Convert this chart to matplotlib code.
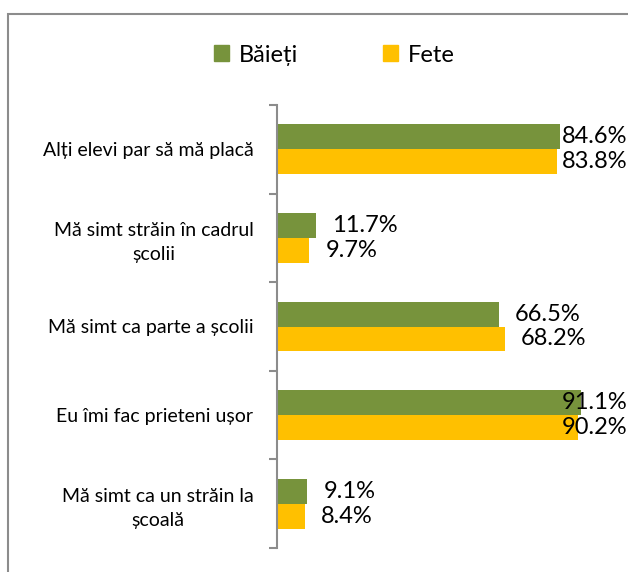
import matplotlib.pyplot as plt
from matplotlib.patches import Rectangle, Patch
import numpy as np

plt.rcParams['font.family'] = ['Lato', 'DejaVu Sans']

categories = ['Alți elevi par să mă placă',
              'Mă simt străin în cadrul\nșcolii',
              'Mă simt ca parte a școlii',
              'Eu îmi fac prieteni ușor',
              'Mă simt ca un străin la\nșcoală']
baieti = [84.6, 11.7, 66.5, 91.1, 9.1]
fete = [83.8, 9.7, 68.2, 90.2, 8.4]
series_names = ['Băieți', 'Fete']

green = '#77933C'
yellow = '#FFC000'

W, H = 628, 572
fig = plt.figure(figsize=(W / 100, H / 100), dpi=100)

# outer chart frame (runs off right and bottom edges)
fig.patches.append(Rectangle((8 / W, -0.05), 1.2, (H - 14) / H + 0.05,
                             transform=fig.transFigure, fill=False,
                             edgecolor='#8c8c8c', linewidth=1.5))

ax = fig.add_axes([277 / W, 24 / H, (611 - 277) / W, (467 - 24) / H])

y = np.arange(len(categories))
h = 0.28
ax.barh(y - h / 2, baieti, height=h, color=green, label=series_names[0])
ax.barh(y + h / 2, fete, height=h, color=yellow, label=series_names[1])

ax.set_xlim(0, 100)
ax.set_ylim(len(categories) - 0.5, -0.5)

# value labels, pushed back inside when they would run off the edge
right_limit = 104.8
for vals, off in ((baieti, -h / 2), (fete, h / 2)):
    for i, v in enumerate(vals):
        xl = v + 4.8
        if xl + 19.5 > right_limit:
            ax.text(right_limit, i + off, f'{v:.1f}%', ha='right', va='center',
                    fontsize=17, clip_on=False)
        else:
            ax.text(xl, i + off, f'{v:.1f}%', ha='left', va='center',
                    fontsize=17, clip_on=False)

for s in ('top', 'right', 'bottom'):
    ax.spines[s].set_visible(False)
ax.spines['left'].set_color('#8c8c8c')
ax.spines['left'].set_linewidth(1.5)
ax.set_xticks([])

ax.set_yticks(y)
ax.set_yticklabels(categories, fontsize=14, multialignment='center', linespacing=1.5)
ax.tick_params(axis='y', which='major', length=0, pad=17)
ax.set_yticks(np.arange(len(categories) + 1) - 0.5, minor=True)
ax.tick_params(axis='y', which='minor', length=6, width=1.5, color='#8c8c8c')

handles = [Patch(color=green), Patch(color=yellow)]
fig.legend(handles, series_names, loc='center', bbox_to_anchor=(334 / W, 1 - 55 / H),
           ncol=2, frameon=False, fontsize=17, handlelength=0.65, handleheight=0.65,
           handletextpad=0.4, columnspacing=3.6)

fig.savefig('out.png', dpi=100)
